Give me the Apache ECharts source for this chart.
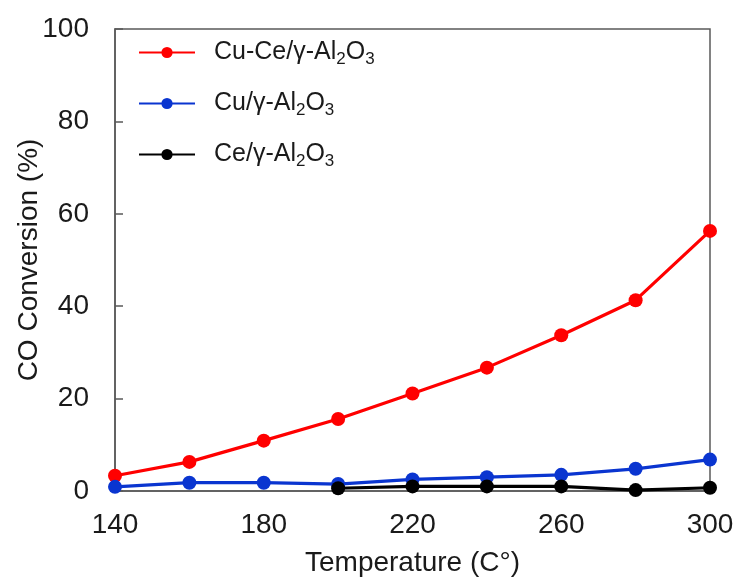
<!DOCTYPE html>
<html>
<head>
<meta charset="utf-8">
<script src="https://cdn.jsdelivr.net/npm/echarts@6/dist/echarts.min.js"></script>
<style>
html,body{margin:0;padding:0;background:#fff;}
#chart{width:741px;height:585px;}
</style>
</head>
<body>
<div id="chart"></div>
<script>
var temperatures = [140, 160, 180, 200, 220, 240, 260, 280, 300];
var cuCe = [3.3, 6.3, 10.9, 15.6, 21.1, 26.7, 33.7, 41.3, 56.3];
var cuOnly = [0.9, 1.8, 1.8, 1.5, 2.5, 3.0, 3.5, 4.8, 6.8];
var ceTemps = [200, 220, 240, 260, 280, 300];
var ceOnly = [0.6, 1.0, 1.0, 1.0, 0.2, 0.7];
var seriesNames = ['Cu-Ce/γ-Al{s|2}O{s|3}', 'Cu/γ-Al{s|2}O{s|3}', 'Ce/γ-Al{s|2}O{s|3}'];
var xTicks = [140, 180, 220, 260, 300];
var yTicks = [0, 20, 40, 60, 80, 100];

function pairs(xs, ys) { return xs.map(function (x, i) { return [x, ys[i]]; }); }

var font = '"Liberation Sans", Arial, sans-serif';
var axisColor = '#595959';
var chart = echarts.init(document.getElementById('chart'));

function mk(name, xs, ys, color) {
  return {
    name: name, type: 'line', data: pairs(xs, ys),
    symbol: 'circle', symbolSize: 14,
    lineStyle: { color: color, width: 3.2 },
    itemStyle: { color: color },
    z: name === seriesNames[2] ? 3 : 2
  };
}

chart.setOption({
  animation: false,
  backgroundColor: '#fff',
  grid: { left: 115, right: 31, top: 29, bottom: 94, show: true, borderColor: axisColor, borderWidth: 1.5, outerBoundsMode: 'none', containLabel: false },
  legend: {
    orient: 'vertical', left: 138, top: 40, padding: 0,
    itemWidth: 56, itemHeight: 14, itemGap: 23,
    data: seriesNames,
    textStyle: {
      fontFamily: font, fontSize: 25, color: '#1a1a1a', padding: [0, 0, 0, 14],
      rich: { s: { fontFamily: font, fontSize: 17, color: '#1a1a1a', verticalAlign: 'bottom', padding: [14, 0, 0, 0] } }
    }
  },
  xAxis: {
    type: 'value', min: 140, max: 300, interval: 40,
    name: 'Temperature (C°)', nameLocation: 'middle', nameGap: 58,
    nameTextStyle: { fontFamily: font, fontSize: 28, color: '#1a1a1a' },
    axisLine: { lineStyle: { color: axisColor, width: 1.5 } },
    axisTick: { show: false },
    splitLine: { show: false },
    axisLabel: { fontFamily: font, fontSize: 28, color: '#1a1a1a', margin: 20,
      customValues: xTicks }
  },
  yAxis: {
    type: 'value', min: 0, max: 100, interval: 20,
    name: 'CO Conversion (%)', nameLocation: 'middle', nameGap: 72, nameMoveOverlap: false,
    nameTextStyle: { fontFamily: font, fontSize: 28, color: '#1a1a1a' },
    axisLine: { show: true, lineStyle: { color: axisColor, width: 1.5 } },
    axisTick: { show: true, inside: true, length: 8, lineStyle: { color: axisColor, width: 1.5 } },
    splitLine: { show: false },
    axisLabel: { fontFamily: font, fontSize: 28, color: '#1a1a1a', margin: 26 }
  },
  series: [
    mk(seriesNames[0], temperatures, cuCe, '#ff0000'),
    mk(seriesNames[1], temperatures, cuOnly, '#0a35d0'),
    mk(seriesNames[2], ceTemps, ceOnly, '#000000')
  ]
});
</script>
</body>
</html>
